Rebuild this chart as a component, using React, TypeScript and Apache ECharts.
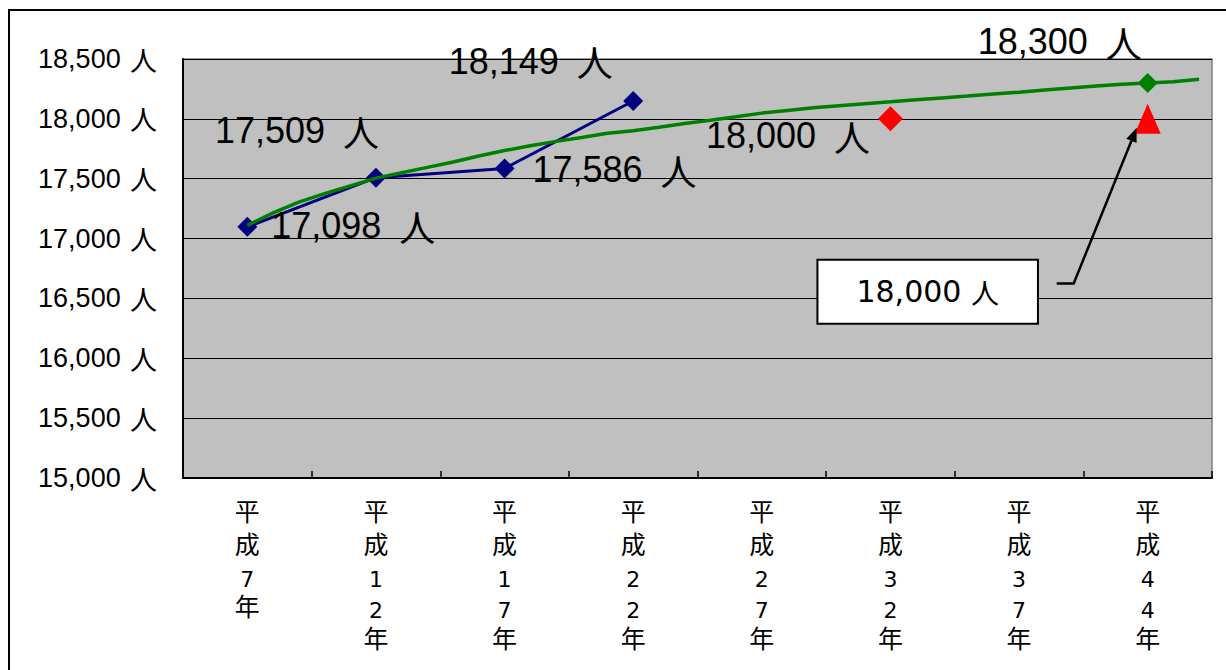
import React, { useEffect, useRef } from "react";
import * as echarts from "echarts";

// Census years shown on the category axis
const categories = [
  "平成7年",
  "平成12年",
  "平成17年",
  "平成22年",
  "平成27年",
  "平成32年",
  "平成37年",
  "平成44年",
];

// Actual population (平成7年〜平成22年)
const actualPopulation = [17098, 17509, 17586, 18149];

// Yearly projected trend (平成7年〜平成44年)
const trendYears = [
  7, 8, 9, 10, 11, 12, 13, 14, 15, 16, 17, 18, 19, 20, 21, 22, 23, 24, 25,
  26, 27, 28, 29, 30, 31, 32, 33, 34, 35, 36, 37, 38, 39, 40, 41, 42, 43, 44,
];
const trendPopulation = [
  17110, 17215, 17305, 17375, 17440, 17505, 17550, 17595, 17640, 17690,
  17735, 17775, 17812, 17845, 17880, 17900, 17930, 17962, 17988, 18018,
  18048, 18070, 18092, 18110, 18126, 18142, 18160, 18175, 18190, 18207,
  18222, 18242, 18258, 18274, 18290, 18300, 18310, 18330,
];

// Key points
const projectedCategory = "平成44年";
const projectedPopulation = 18300;
const targetCategory = "平成32年";
const targetPopulation = 18000;
const goalCategory = "平成44年";
const goalPopulation = 18000;

// Y axis range
const yMin = 15000;
const yMax = 18500;
const yStep = 500;

// Label placement relative to each actual-population marker
const actualLabelOffsets = [
  [106, -1],
  [-79, -47],
  [110, 1.5],
  [-102.5, -40],
];

const fmt = (v: number) => v.toLocaleString("en-US");
const DIGIT_FONT = "'Liberation Sans', Arial, sans-serif";
const CJK_FONT = "'Noto Sans CJK JP', sans-serif";
const BOX_FONT = "'DejaVu Sans', sans-serif";

const noBorder = { textBorderWidth: 0, textBorderColor: "transparent", textShadowBlur: 0 };

const bigLabelRich = {
  n: { fontFamily: DIGIT_FONT, fontSize: 36, color: "#000", ...noBorder },
  u: { fontFamily: CJK_FONT, fontSize: 36, color: "#000", padding: [0, 0, 0, 8], ...noBorder },
};
const bigLabel = (offset: number[]) => ({
  show: true,
  position: "inside",
  offset,
  fontFamily: DIGIT_FONT,
  fontSize: 36,
  color: "#000",
  ...noBorder,
  formatter: (p: any) => {
    const v = Array.isArray(p.value) ? p.value[1] : p.value;
    return `{n|${fmt(v)}} {u|人}`;
  },
  rich: bigLabelRich,
});

export default function App() {
  const ref = useRef<HTMLDivElement>(null);

  useEffect(() => {
    if (!ref.current) return;
    const chart = echarts.init(ref.current, null, { renderer: "svg" });

    const kanji = { fontFamily: CJK_FONT, fontSize: 25, fontWeight: "normal", color: "#000" };
    const digit = { fontFamily: BOX_FONT, fontSize: 22, fontWeight: "normal", color: "#000" };

    const option: any = {
      animation: false,
      backgroundColor: "#ffffff",
      grid: {
        left: 183,
        top: 59,
        width: 1029,
        height: 419,
        show: true,
        backgroundColor: "#C0C0C0",
        borderColor: "#808080",
        borderWidth: 1.5,
      },
      xAxis: [
        {
          type: "category",
          data: categories,
          boundaryGap: true,
          axisLine: { show: true, lineStyle: { color: "#000", width: 2 } },
          axisTick: {
            show: true,
            inside: true,
            length: 7,
            lineStyle: { color: "#000", width: 1.5 },
          },
          axisLabel: {
            interval: 0,
            margin: 15,
            color: "#000",
            fontFamily: BOX_FONT,
            fontSize: 22,
            formatter: (val: string) => {
              const digits = val.split("").filter((c) => /[0-9]/.test(c));
              const lines = ["{ka|平}", "{kb|成}"];
              if (digits.length === 1) {
                lines.push(`{da|${digits[0]}}`, "{ya|年}");
              } else {
                lines.push(`{da|${digits[0]}}`, `{db|${digits[1]}}`, "{yb|年}");
              }
              return lines.join("\n");
            },
            rich: {
              ka: { ...kanji, lineHeight: 33 },
              kb: { ...kanji, lineHeight: 33 },
              da: { ...digit, lineHeight: 41 },
              db: { ...digit, lineHeight: 21 },
              ya: { ...kanji, lineHeight: 9 },
              yb: { ...kanji, lineHeight: 31 },
            },
          },
          splitLine: { show: false },
        },
        {
          // yearly scale for the trend line: each category spans five years
          type: "value",
          min: 4.5,
          max: 44.5,
          show: false,
        },
      ],
      yAxis: {
        type: "value",
        min: yMin,
        max: yMax,
        interval: yStep,
        axisLine: { show: true, lineStyle: { color: "#000", width: 2 } },
        axisTick: { show: false },
        splitLine: { show: true, lineStyle: { color: "#000", width: 1.2 } },
        axisLabel: {
          margin: 26,
          color: "#000",
          formatter: (v: number) => `{n|${fmt(v)}} {u|人}`,
          rich: {
            n: { fontFamily: DIGIT_FONT, fontSize: 27, color: "#000" },
            u: { fontFamily: CJK_FONT, fontSize: 27, color: "#000", padding: [0, 0, 0, 6] },
          },
        },
      },
      series: [
        {
          name: "実績",
          type: "line",
          xAxisIndex: 0,
          yAxisIndex: 0,
          data: actualPopulation.map((v, i) => ({
            value: v,
            label: bigLabel(actualLabelOffsets[i]),
          })),
          symbol: "diamond",
          symbolSize: 20,
          itemStyle: { color: "#000080", opacity: 1 },
          lineStyle: { color: "#000080", width: 3 },
          z: 3,
        },
        {
          name: "推計",
          type: "line",
          xAxisIndex: 1,
          yAxisIndex: 0,
          data: trendYears.map((y, i) => [y, trendPopulation[i]]),
          showSymbol: false,
          symbol: "none",
          lineStyle: { color: "#008000", width: 3.5 },
          itemStyle: { color: "#008000" },
          z: 4,
        },
        {
          name: "推計値",
          type: "scatter",
          xAxisIndex: 0,
          yAxisIndex: 0,
          data: [[projectedCategory, projectedPopulation]],
          symbol: "diamond",
          symbolSize: 20,
          itemStyle: { color: "#008000", opacity: 1 },
          label: bigLabel([-88, -41]),
          z: 5,
        },
        {
          name: "目標(平成32年)",
          type: "scatter",
          xAxisIndex: 0,
          yAxisIndex: 0,
          data: [[targetCategory, targetPopulation]],
          symbol: "diamond",
          symbolSize: 25,
          itemStyle: { color: "#FF0000", opacity: 1 },
          label: bigLabel([-102.5, 17]),
          z: 5,
        },
        {
          name: "目標(平成44年)",
          type: "scatter",
          xAxisIndex: 0,
          yAxisIndex: 0,
          data: [[goalCategory, goalPopulation]],
          symbol: "triangle",
          symbolSize: [26, 30],
          itemStyle: { color: "#FF0000", opacity: 1 },
          label: {
            show: true,
            position: "inside",
            offset: [-220, 173],
            backgroundColor: "#ffffff",
            borderColor: "#000",
            borderWidth: 2,
            padding: [16, 38, 16, 38],
            fontFamily: BOX_FONT,
            fontSize: 30,
            color: "#000",
            ...noBorder,
            formatter: (p: any) => `{n|${fmt(p.value[1])}} {u|人}`,
            rich: {
              n: { fontFamily: BOX_FONT, fontSize: 30, color: "#000", ...noBorder },
              u: { fontFamily: CJK_FONT, fontSize: 28, color: "#000", ...noBorder },
            },
          },
          z: 5,
        },
      ],
    };

    chart.setOption(option);

    // Leader arrow from the annotation box up to the 平成44年 target marker
    const gx = chart.convertToPixel({ xAxisIndex: 0 }, categories.indexOf(goalCategory)) as number;
    const gy = chart.convertToPixel({ yAxisIndex: 0 }, goalPopulation) as number;
    const start = [gx - 91, gy + 164.6];
    const elbow = [gx - 74, gy + 164.6];
    const tip = [gx - 11, gy + 9];
    const dx = tip[0] - elbow[0];
    const dy = tip[1] - elbow[1];
    const len = Math.hypot(dx, dy);
    const ux = dx / len;
    const uy = dy / len;
    const headLen = 14;
    const headHalf = 5.5;
    const base = [tip[0] - ux * headLen, tip[1] - uy * headLen];
    const px = -uy;
    const py = ux;

    chart.setOption({
      graphic: [
        {
          type: "rect",
          shape: { x: 9, y: 10, width: 1240, height: 700 },
          style: { fill: "none", stroke: "#000", lineWidth: 2 },
          z: 100,
          silent: true,
        },
        {
          type: "polyline",
          shape: { points: [start, elbow, base] },
          style: { fill: "none", stroke: "#000", lineWidth: 2.5 },
          z: 100,
          silent: true,
        },
        {
          type: "polygon",
          shape: {
            points: [
              tip,
              [base[0] + px * headHalf, base[1] + py * headHalf],
              [base[0] - px * headHalf, base[1] - py * headHalf],
            ],
          },
          style: { fill: "#000" },
          z: 100,
          silent: true,
        },
      ],
    });

    return () => chart.dispose();
  }, []);

  return (
    <div
      ref={ref}
      style={{ position: "absolute", left: 0, top: 0, width: 1226, height: 670 }}
    />
  );
}
